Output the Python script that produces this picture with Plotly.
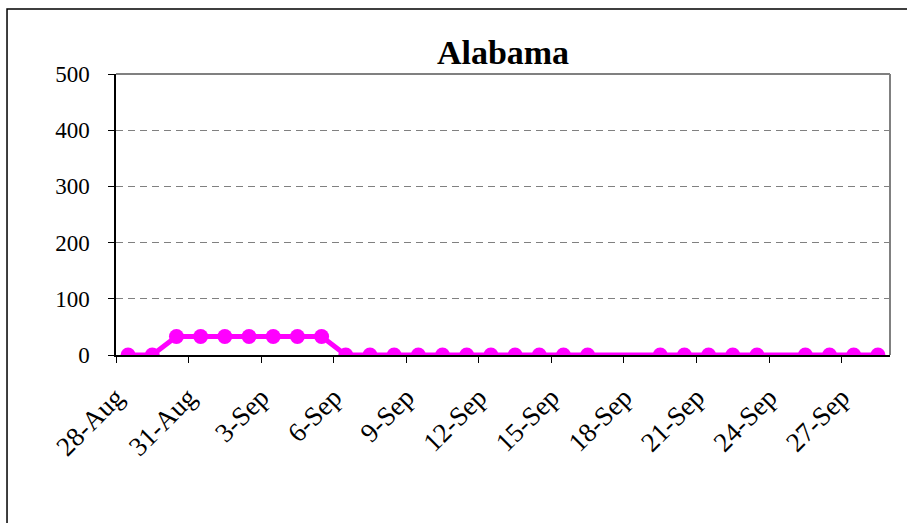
import plotly.graph_objects as go
import pandas as pd

# daily values (dates with no report are left out, the line runs across them)
dates = [
    "2008-08-28", "2008-08-29", "2008-08-30", "2008-08-31",
    "2008-09-01", "2008-09-02", "2008-09-03", "2008-09-04", "2008-09-05",
    "2008-09-06", "2008-09-07", "2008-09-08", "2008-09-09", "2008-09-10",
    "2008-09-11", "2008-09-12", "2008-09-13", "2008-09-14", "2008-09-15",
    "2008-09-16", "2008-09-19", "2008-09-20", "2008-09-21", "2008-09-22",
    "2008-09-23", "2008-09-25", "2008-09-26", "2008-09-27", "2008-09-28",
]
values = [
    0, 0, 33, 33,
    33, 33, 33, 33, 33,
    0, 0, 0, 0, 0,
    0, 0, 0, 0, 0,
    0, 0, 0, 0, 0,
    0, 0, 0, 0, 0,
]
tick_dates = ["2008-08-28", "2008-08-31", "2008-09-03", "2008-09-06", "2008-09-09",
              "2008-09-12", "2008-09-15", "2008-09-18", "2008-09-21", "2008-09-24",
              "2008-09-27"]
tick_labels = ["28-Aug", "31-Aug", "3-Sep", "6-Sep", "9-Sep", "12-Sep", "15-Sep",
               "18-Sep", "21-Sep", "24-Sep", "27-Sep"]

SERIF = "Liberation Serif, Times New Roman, serif"
MAGENTA = "#ff00ff"

# points sit in the middle of each day, ticks on day boundaries
x = pd.to_datetime(dates) + pd.Timedelta(hours=12)

fig = go.Figure(go.Scatter(
    x=x, y=values, mode="lines+markers",
    line=dict(color=MAGENTA, width=5),
    marker=dict(color=MAGENTA, size=15),
    showlegend=False,
))

fig.update_layout(
    width=907, height=523,
    margin=dict(l=116, r=17, t=74, b=168),
    paper_bgcolor="white", plot_bgcolor="white",
    font=dict(family=SERIF, color="black", size=23),
    title=dict(text="<b>Alabama</b>", x=0.5, xref="paper", y=0.9, yref="container",
               xanchor="center", yanchor="middle",
               font=dict(family=SERIF, size=34, color="black")),
    shapes=[
        # outer chart frame, runs off the right and bottom edges
        dict(type="rect", xref="paper", yref="paper",
             x0=-0.1408, x1=1.2, y0=-1.0, y1=1.2313,
             line=dict(color="black", width=1.5), layer="below"),
        dict(type="line", xref="paper", yref="paper", x0=0, x1=1, y0=1, y1=1,
             line=dict(color="#808080", width=2)),
        dict(type="line", xref="paper", yref="paper", x0=1, x1=1, y0=0, y1=1,
             line=dict(color="#808080", width=2)),
    ],
)

fig.update_xaxes(
    type="date",
    range=["2008-08-28", "2008-09-29"],
    tickmode="array",
    tickvals=pd.to_datetime(tick_dates),
    ticktext=tick_labels,
    tickangle=-45,
    ticks="outside", ticklen=6, tickcolor="black",
    ticklabelstandoff=8,
    tickfont=dict(size=27),
    showline=True, linecolor="black", linewidth=1.5,
    showgrid=False, zeroline=False,
)
fig.update_yaxes(
    range=[0, 500],
    tickvals=[0, 100, 200, 300, 400, 500],
    ticks="outside", ticklen=6, tickcolor="black",
    ticklabelstandoff=14,
    showline=True, linecolor="black", linewidth=1.5,
    showgrid=True, gridcolor="#808080", griddash="7px,5px", gridwidth=1,
    zeroline=False,
)

# drop the default page margin so the figure sits at the window's top-left
fig.write_html("out.html", config={"displayModeBar": False},
               post_script="document.body.style.margin='0';")
